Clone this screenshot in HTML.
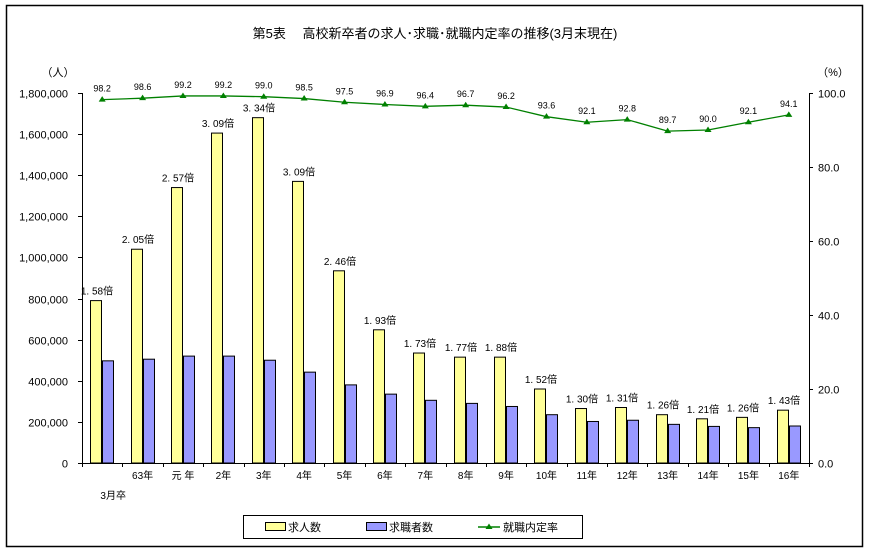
<!DOCTYPE html>
<html><head><meta charset="utf-8">
<style>
html,body{margin:0;padding:0;background:#fff;}
svg{display:block;font-family:"Liberation Sans","Noto Sans CJK JP",sans-serif;}
</style></head>
<body>
<svg id="chart" width="869" height="551" viewBox="0 0 869 551" xmlns="http://www.w3.org/2000/svg">
<rect x="6.5" y="5.5" width="856" height="541" fill="#fff" stroke="#000" stroke-width="1.5"/>
<text x="435" y="38" text-anchor="middle" font-size="13">第5表　 高校新卒者の求人･求職･就職内定率の推移(3月末現在)</text>
<text x="58" y="76" text-anchor="middle" font-size="11">（人）</text>
<text x="833" y="76" text-anchor="middle" font-size="11">（%）</text>
<g id="axes"></g>
<g id="bars"></g>
<g id="line"></g>
<g>
<rect x="243.5" y="515.5" width="339" height="23" fill="#fff" stroke="#000"/>
<rect x="265.5" y="522.5" width="20" height="8" fill="#ffff99" stroke="#000"/>
<text x="288" y="531" font-size="11">求人数</text>
<rect x="366.5" y="522.5" width="20" height="8" fill="#9999ff" stroke="#000"/>
<text x="389" y="531" font-size="11">求職者数</text>
<line x1="478" y1="527" x2="500" y2="527" stroke="#008000" stroke-width="1.5"/>
<polygon points="489,523.5 492.5,529 485.5,529" fill="#008000"/>
<text x="503" y="531" font-size="11">就職内定率</text>
</g>
</svg>
<script>
const categories = ["", "63年", "元 年", "2年", "3年", "4年", "5年", "6年", "7年", "8年", "9年", "10年", "11年", "12年", "13年", "14年", "15年", "16年"];
const jobOffers = [790000, 1040000, 1340000, 1605000, 1680000, 1370000, 935000, 648000, 535000, 515000, 515000, 360000, 265000, 270000, 235000, 215000, 222000, 257000];
const jobSeekers = [497000, 505000, 520000, 520000, 500000, 442000, 380000, 335000, 305000, 290000, 275000, 235000, 202000, 208000, 188000, 178000, 172000, 180000];
const ratios = ["1. 58倍", "2. 05倍", "2. 57倍", "3. 09倍", "3. 34倍", "3. 09倍", "2. 46倍", "1. 93倍", "1. 73倍", "1. 77倍", "1. 88倍", "1. 52倍", "1. 30倍", "1. 31倍", "1. 26倍", "1. 21倍", "1. 26倍", "1. 43倍"];
const rates = [98.2, 98.6, 99.2, 99.2, 99.0, 98.5, 97.5, 96.9, 96.4, 96.7, 96.2, 93.6, 92.1, 92.8, 89.7, 90.0, 92.1, 94.1];
const leftTicks = [0, 200000, 400000, 600000, 800000, 1000000, 1200000, 1400000, 1600000, 1800000];
const rightTicks = [0, 20, 40, 60, 80, 100];

const NS = "http://www.w3.org/2000/svg";
const X0 = 82, X1 = 809, Y0 = 463, Y1 = 93;
const catW = (X1 - X0) / categories.length;
const xc = i => X0 + catW * (i + 0.5);
const yL = v => Y0 - (v / 1800000) * (Y0 - Y1);
const yR = v => Y0 - (v / 100) * (Y0 - Y1);
function mk(tag, attrs, parent, text) {
  const e = document.createElementNS(NS, tag);
  for (const k in attrs) e.setAttribute(k, attrs[k]);
  if (text !== undefined) e.textContent = text;
  parent.appendChild(e);
  return e;
}
const axes = document.getElementById("axes");
const bars = document.getElementById("bars");
const line = document.getElementById("line");

let a = mk("line", {x1: X0 + .5, y1: Y1, x2: X0 + .5, y2: Y0, stroke: "#000"}, axes);


a = mk("line", {x1: X1 + .5, y1: Y1, x2: X1 + .5, y2: Y0, stroke: "#000"}, axes);


a = mk("line", {x1: X0, y1: Y0 + .5, x2: X1, y2: Y0 + .5, stroke: "#000"}, axes);



leftTicks.forEach(v => {
  const y = Math.round(yL(v)) + .5;
  mk("line", {x1: X0 - 4, y1: y, x2: X0, y2: y, stroke: "#000"}, axes);
  const t = mk("text", {x: X0 - 14, y: y + 4, "text-anchor": "end", "font-size": "11"}, axes, v.toLocaleString("en-US"));
  
  
});
rightTicks.forEach(v => {
  const y = Math.round(yR(v)) + .5;
  mk("line", {x1: X1, y1: y, x2: X1 + 4, y2: y, stroke: "#000"}, axes);
  const t = mk("text", {x: X1 + 9, y: y + 4, "font-size": "11"}, axes, v.toFixed(1));
  
  
});
for (let i = 0; i <= categories.length; i++) {
  const x = Math.round(X0 + catW * i) + .5;
  mk("line", {x1: x, y1: Y0, x2: x, y2: Y0 + 4, stroke: "#000"}, axes);
}
categories.forEach((c, i) => {
  const t = mk("text", {x: xc(i), y: 479, "text-anchor": "middle", "font-size": "10"}, axes, c);
  
  
});
const sub = mk("text", {x: xc(0) + 11, y: 499, "text-anchor": "middle", "font-size": "10"}, axes, "3月卒");



const bw = 11;
categories.forEach((c, i) => {
  const cx = Math.round(xc(i));
  const y1 = yL(jobOffers[i]);
  const b1 = mk("rect", {x: cx - bw - 0.5, y: y1, width: bw, height: Y0 - y1, fill: "#ffff99", stroke: "#000"}, bars);
  
  
  const y2 = yL(jobSeekers[i]);
  const b2 = mk("rect", {x: cx + 0.5, y: y2, width: bw, height: Y0 - y2, fill: "#9999ff", stroke: "#000"}, bars);
  
  
  const l = mk("text", {x: cx - 5, y: y1 - 6, "text-anchor": "middle", "font-size": "10"}, bars, ratios[i]);
  
  
});

const pts = rates.map((r, i) => [xc(i), yR(r)]);
const pl = mk("polyline", {points: pts.map(p => p.join(",")).join(" "), fill: "none", stroke: "#008000", "stroke-width": "1.3"}, line);


pts.forEach((p, i) => {
  const m = mk("polygon", {points: `${p[0]},${p[1]-3.5} ${p[0]+3.5},${p[1]+2} ${p[0]-3.5},${p[1]+2}`, fill: "#008000"}, line);
  
  
  const t = mk("text", {x: p[0], y: p[1] - 8, "text-anchor": "middle", "font-size": "9"}, line, rates[i].toFixed(1));
  
  
});
</script>
</body></html>
